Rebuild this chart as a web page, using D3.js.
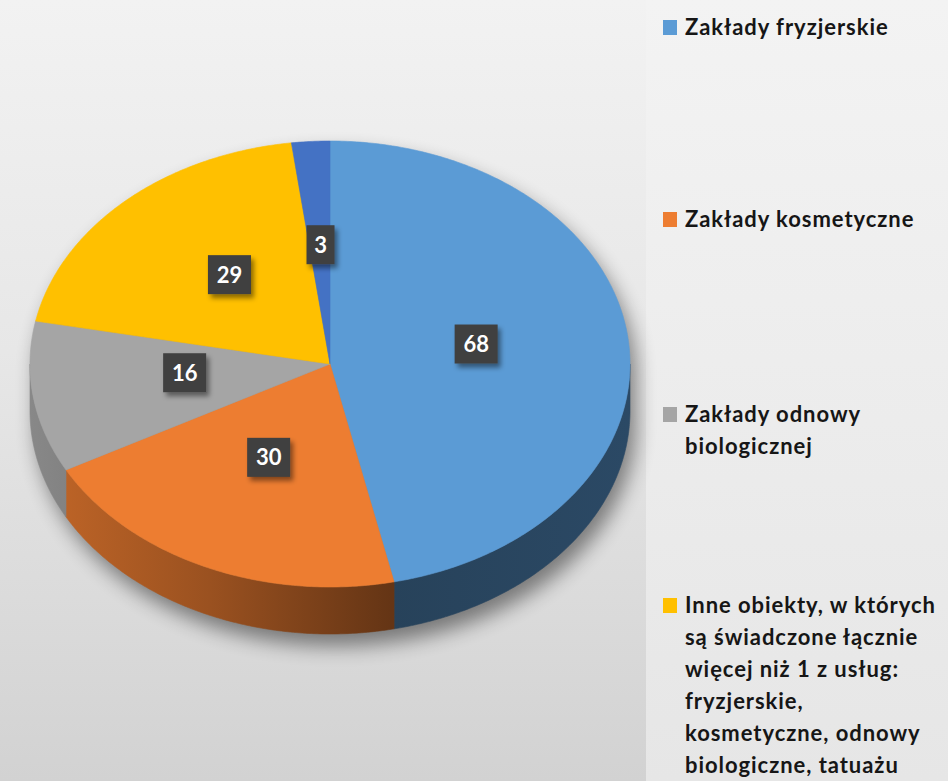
<!DOCTYPE html>
<html>
<head>
<meta charset="utf-8">
<script src="https://cdn.jsdelivr.net/npm/d3@7"></script>
<style>
  html, body { margin: 0; padding: 0; background: #e6e6e6; }
  svg { display: block; }
</style>
</head>
<body>
<svg id="chart" width="948" height="781"></svg>
<script>
// ---- data ----
const categories = [
  "Zakłady fryzjerskie",
  "Zakłady kosmetyczne",
  "Zakłady odnowy biologicznej",
  "Inne obiekty, w których są świadczone łącznie więcej niż 1 z usług: fryzjerskie, kosmetyczne, odnowy biologiczne, tatuażu",
  "Zakłady tatuażu"
];
const values = [68, 30, 16, 29, 3];
const colors = ["#5B9BD5", "#ED7D31", "#A5A5A5", "#FFC000", "#4472C4"];
const legendLines = [
  ["Zakłady fryzjerskie"],
  ["Zakłady kosmetyczne"],
  ["Zakłady odnowy", "biologicznej"],
  ["Inne obiekty, w których", "są świadczone łącznie", "więcej niż 1 z usług:", "fryzjerskie,", "kosmetyczne, odnowy", "biologiczne, tatuażu"]
];

// ---- layout ----
const W = 948, H = 781;
const cx = 330, cy = 364, rx = 300, ry = 223, depth = 47;

const svg = d3.select("#chart");
const defs = svg.append("defs");

// background
const bg = defs.append("linearGradient").attr("id", "bg").attr("x1", 0).attr("y1", 0).attr("x2", 0).attr("y2", 1);
bg.append("stop").attr("offset", 0).attr("stop-color", "#f2f2f2");
bg.append("stop").attr("offset", 0.45).attr("stop-color", "#e7e7e7");
bg.append("stop").attr("offset", 1).attr("stop-color", "#d2d2d2");
const bg2 = defs.append("linearGradient").attr("id", "bg2").attr("x1", 0).attr("y1", 0).attr("x2", 0).attr("y2", 1);
bg2.append("stop").attr("offset", 0).attr("stop-color", "#f3f3f3");
bg2.append("stop").attr("offset", 1).attr("stop-color", "#e6e6e6");
svg.append("rect").attr("width", W).attr("height", H).attr("fill", "url(#bg)");
svg.append("rect").attr("x", 646).attr("width", W - 646).attr("height", H).attr("fill", "url(#bg2)");

// filters
const blur = defs.append("filter").attr("id", "pieShadow").attr("x", "-20%").attr("y", "-20%").attr("width", "140%").attr("height", "140%");
blur.append("feGaussianBlur").attr("stdDeviation", 10);
const lblShadow = defs.append("filter").attr("id", "lblShadow").attr("x", "-30%").attr("y", "-30%").attr("width", "170%").attr("height", "170%");
lblShadow.append("feDropShadow").attr("dx", 3).attr("dy", 4).attr("stdDeviation", 2.5).attr("flood-color", "#000").attr("flood-opacity", 0.45);

// ---- pie ----
const pie = d3.pie().sort(null).value(d => d).startAngle(0).endAngle(2 * Math.PI);
const arcs = pie(values);

const px = a => cx + rx * Math.sin(a);
const py = a => cy - ry * Math.cos(a);

function ellipseArc(a0, a1, dy) {
  const pts = [];
  const n = Math.max(2, Math.ceil(Math.abs(a1 - a0) / 0.01));
  for (let i = 0; i <= n; i++) {
    const a = a0 + (a1 - a0) * i / n;
    pts.push([px(a), py(a) + dy]);
  }
  return pts;
}
const line = d3.line();

// shadow: whole silhouette
const silhouette = ellipseArc(-Math.PI / 2, Math.PI / 2, 0).concat(ellipseArc(Math.PI / 2, 3 * Math.PI / 2, depth));
svg.append("path")
  .attr("d", line(silhouette) + "Z")
  .attr("transform", "translate(6,12)")
  .attr("fill", "#000")
  .attr("opacity", 0.45)
  .attr("filter", "url(#pieShadow)");

// sides (front half: angles between PI/2 and 3PI/2)
const sideG = svg.append("g");
arcs.forEach((d, i) => {
  const a0 = Math.max(d.startAngle, Math.PI / 2);
  const a1 = Math.min(d.endAngle, 3 * Math.PI / 2);
  if (a1 <= a0) return;
  const base = d3.rgb(colors[i]);
  const gid = "side" + i;
  const g = defs.append("linearGradient").attr("id", gid)
    .attr("gradientUnits", "userSpaceOnUse")
    .attr("x1", cx - rx).attr("y1", 0).attr("x2", cx + rx).attr("y2", 0);
  g.append("stop").attr("offset", 0).attr("stop-color", base.darker(0.55).formatHex());
  g.append("stop").attr("offset", 0.3).attr("stop-color", base.darker(1.2).formatHex());
  g.append("stop").attr("offset", 0.6).attr("stop-color", base.darker(2.4).formatHex());
  g.append("stop").attr("offset", 1).attr("stop-color", base.darker(2.1).formatHex());
  const top = ellipseArc(a0, a1, 0);
  const bot = ellipseArc(a1, a0, depth);
  sideG.append("path")
    .attr("d", line(top.concat(bot)) + "Z")
    .attr("fill", "url(#" + gid + ")")
    .attr("stroke", "url(#" + gid + ")")
    .attr("stroke-width", 0.6);
});

// top faces
const topG = svg.append("g");
arcs.forEach((d, i) => {
  const pts = [[cx, cy]].concat(ellipseArc(d.startAngle, d.endAngle, 0));
  topG.append("path")
    .attr("d", line(pts) + "Z")
    .attr("fill", colors[i])
    .attr("stroke", colors[i])
    .attr("stroke-width", 0.6);
});

// data labels
const lblG = svg.append("g");
arcs.forEach((d, i) => {
  const m = (d.startAngle + d.endAngle) / 2;
  const x = cx + 0.49 * rx * Math.sin(m);
  const y = cy - 0.5 * ry * Math.cos(m) - 8;
  const txt = String(values[i]);
  const w = txt.length > 1 ? 43 : 28, h = 39;
  const g = lblG.append("g").attr("transform", `translate(${x},${y})`);
  g.append("rect")
    .attr("x", -w / 2).attr("y", -h / 2).attr("width", w).attr("height", h)
    .attr("fill", "#3f3f3f")
    .attr("filter", "url(#lblShadow)");
  g.append("text")
    .attr("text-anchor", "middle")
    .attr("y", 8)
    .attr("font-family", "Lato, 'Open Sans', sans-serif")
    .attr("font-weight", 700)
    .attr("font-size", 22)
    .attr("fill", "#ffffff")
    .text(txt);
});

// legend
const legTop = [35, 227, 422, 613];
const lg = svg.append("g");
legendLines.forEach((lines, i) => {
  const by = legTop[i];
  lg.append("rect")
    .attr("x", 663).attr("y", by - 15).attr("width", 14).attr("height", 15)
    .attr("fill", colors[i]);
  const t = lg.append("text")
    .attr("font-family", "Lato, 'Open Sans', sans-serif")
    .attr("font-weight", 700)
    .attr("font-size", 22)
    .attr("letter-spacing", 0.95)
    .attr("fill", "#161616");
  lines.forEach((s, j) => {
    t.append("tspan").attr("x", 685).attr("y", by + j * 32).text(s);
  });
});
</script>
</body>
</html>
